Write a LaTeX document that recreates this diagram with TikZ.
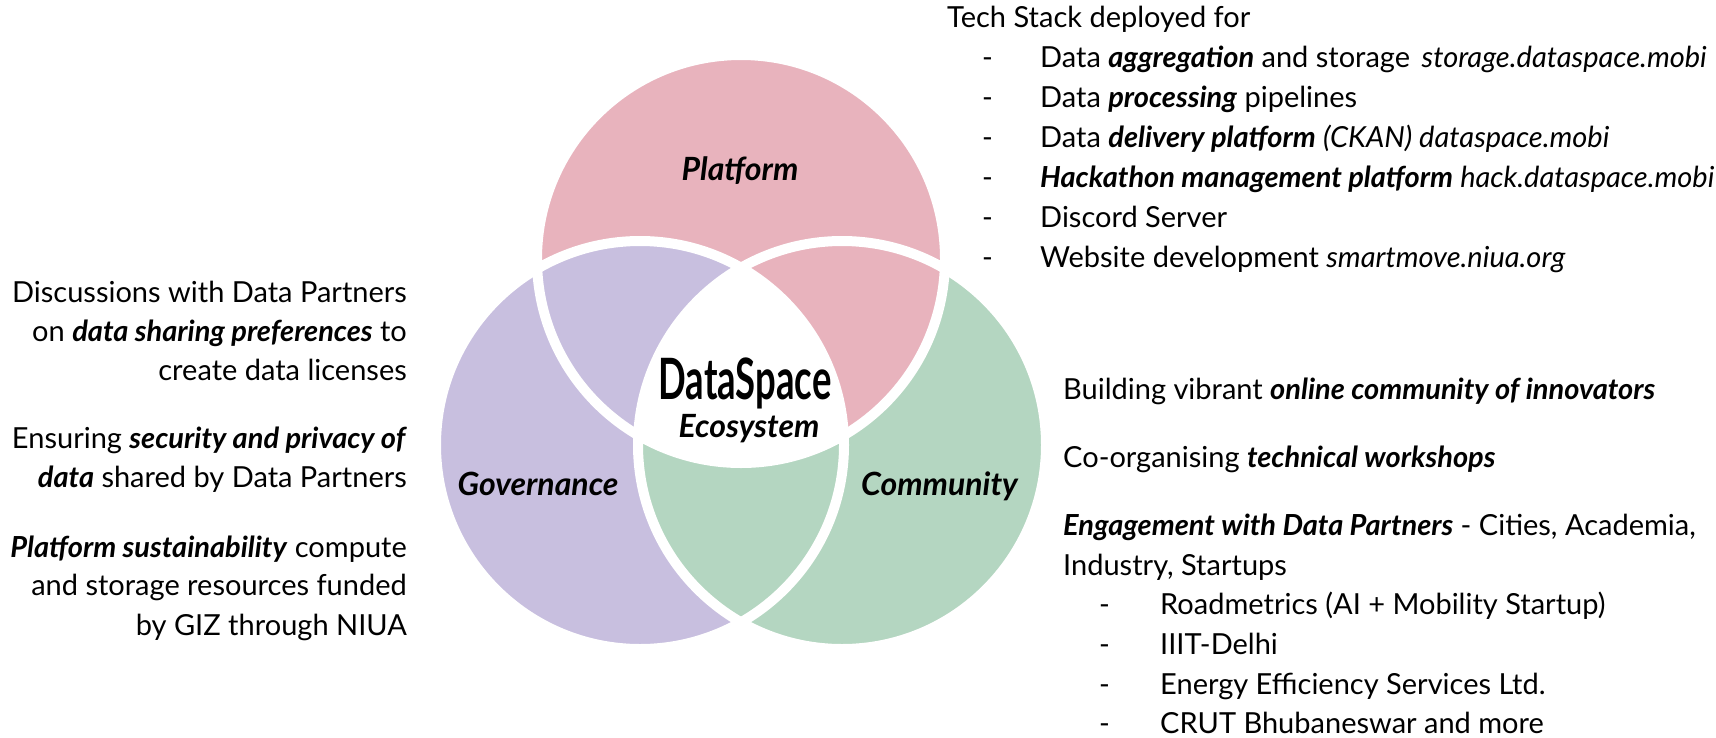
\documentclass[tikz,border=0pt]{standalone}
\usepackage{fontspec}
\setmainfont{Lato}
\newfontfamily\titlefont[FakeStretch=0.64]{Lato}
\usetikzlibrary{positioning}

\definecolor{platpink}{HTML}{E8B3BD}
\definecolor{govlilac}{HTML}{C8BFDF}
\definecolor{comgreen}{HTML}{B4D6C1}

\newcommand{\kw}[1]{\textbf{\textit{#1}}}

\tikzset{
    body/.style={inner sep=0pt, font=\fontsize{29}{34}\selectfont},
    lefttext/.style={body, anchor=base east},
    righttext/.style={body, anchor=base west},
    setlabel/.style={inner sep=0pt, font=\fontsize{32}{36}\selectfont\bfseries\itshape},
    ring/.style={draw=white, line width=10pt}
}

\begin{document}
\begin{tikzpicture}[x=1pt,y=-1pt]
    \useasboundingbox (0,0) rectangle (1716,737);

    % Centres of the three sets
    \coordinate (P) at (741,259);
    \coordinate (G) at (640,445);
    \coordinate (C) at (842,445);

    % Fill the sets
    \fill[platpink] (P) circle (204pt);
    \fill[govlilac] (G) circle (204pt);
    \fill[comgreen] (C) circle (204pt);

    % Platform over Community
    \begin{scope}
        \clip (P) circle (204pt);
        \fill[platpink] (C) circle (204pt);
    \end{scope}

    % Middle stays white
    \begin{scope}
        \clip (P) circle (204pt);
        \clip (G) circle (204pt);
        \fill[white] (C) circle (204pt);
    \end{scope}

    % White rings round every set
    \foreach \s in {P,G,C} {
        \draw[ring] (\s) circle (204pt);
    }

    % Set labels
    \node[setlabel, anchor=base] (platform) at (740,180) {Platform};
    \node[setlabel, anchor=base] (governance) at (538,495) {Governance};
    \node[setlabel, anchor=base west] (community) at (861,495) {Community};

    % Centre
    \node[inner sep=0pt, anchor=base, font=\titlefont\fontsize{57}{60}\selectfont\bfseries] (dsname) at (745,399) {DataSpace};
    \node[setlabel, anchor=base] (ecosystem) at (749,437) {Ecosystem};

    % Governance notes
    \foreach \y/\txt [count=\i] in {
        302/{Discussions with Data Partners},
        341/{on \kw{data sharing preferences} to},
        380/{create data licenses},
        448/{Ensuring \kw{security and privacy of}},
        487/{\kw{data} shared by Data Partners},
        557/{\kw{Platform sustainability} compute},
        595/{and storage resources funded},
        635/{by GIZ through NIUA}} {
        \node[lefttext] (gov\i) at (407,\y) {\txt};
    }

    % Platform notes
    \node[righttext] (stack) at (947,27) {Tech Stack deployed for};
    \foreach \y/\txt [count=\i] in {
        67/{Data \kw{aggregation} and storage\hspace{0.4em}\textit{storage.dataspace.mobi}},
        107/{Data \kw{processing} pipelines},
        147/{Data \kw{delivery platform} \textit{(CKAN) dataspace.mobi}},
        187/{\kw{Hackathon management platform} \textit{hack.dataspace.mobi}},
        227/{Discord Server},
        267/{Website development \textit{smartmove.niua.org}}} {
        \node[righttext] (stackdash\i) at (982,\y) {-};
        \node[righttext] (stackitem\i) at (1040,\y) {\txt};
    }

    % Community notes
    \node[righttext] (com1) at (1063,399) {Building vibrant \kw{online community of innovators}};
    \node[righttext] (com2) at (1063,467) {Co-organising \kw{technical workshops}};
    \node[righttext] (com3) at (1063,535) {\kw{Engagement with Data Partners} - Cities, Academia,};
    \node[righttext] (com4) at (1063,575) {Industry, Startups};
    \foreach \y/\txt [count=\i] in {
        614/{Roadmetrics (AI + Mobility Startup)},
        654/{IIIT-Delhi},
        694/{Energy Efficiency Services Ltd.},
        733/{CRUT Bhubaneswar and more}} {
        \node[righttext] (partnerdash\i) at (1099,\y) {-};
        \node[righttext] (partner\i) at (1160,\y) {\txt};
    }
\end{tikzpicture}
\end{document}
